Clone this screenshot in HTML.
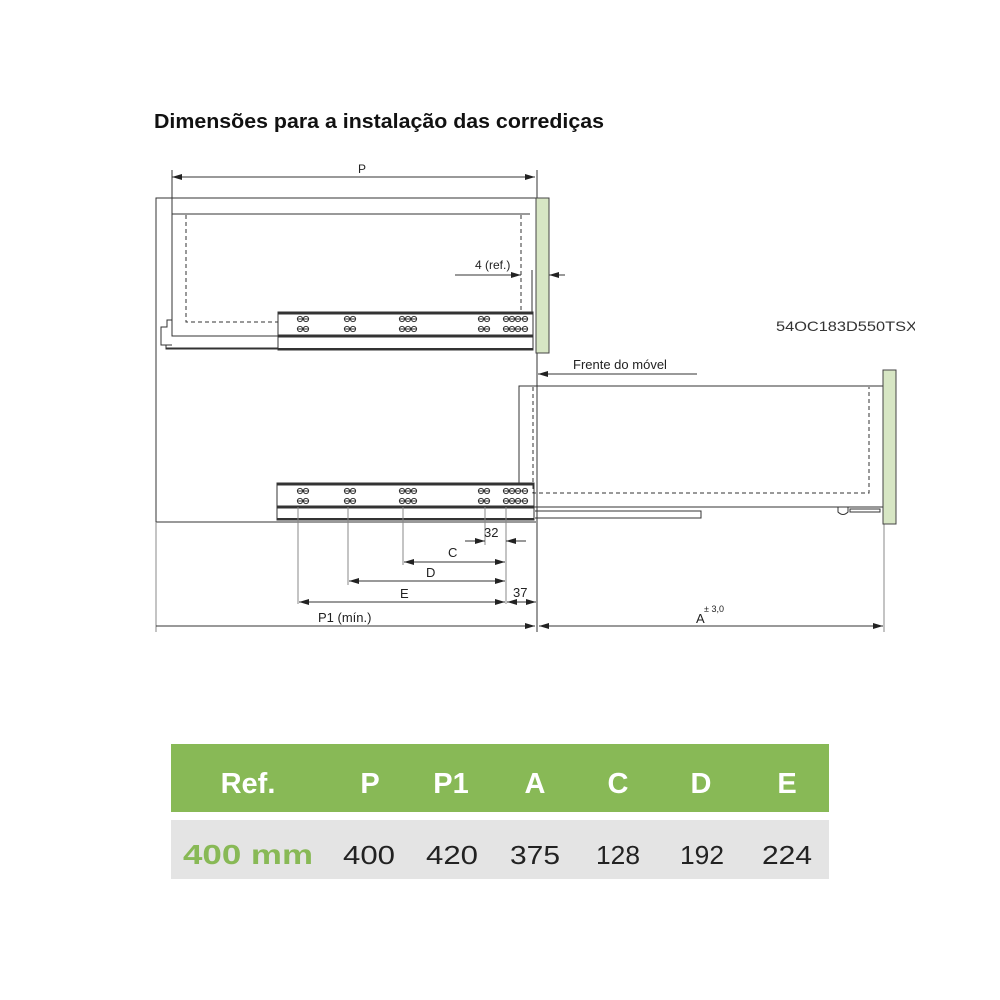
<!DOCTYPE html>
<html><head><meta charset="utf-8"><style>
html,body{margin:0;padding:0;background:#fff;}
svg{display:block}
text{font-family:"Liberation Sans",sans-serif;}
</style></head><body>
<svg width="1000" height="1000" viewBox="0 0 1000 1000" xmlns="http://www.w3.org/2000/svg">
<defs>
<marker id="a" viewBox="0 0 10 6" refX="10" refY="3" markerWidth="10" markerHeight="6" orient="auto-start-reverse" markerUnits="userSpaceOnUse"><path d="M0,0L10,3L0,6z" fill="#222"/></marker>
<clipPath id="cl"><rect x="700" y="300" width="215" height="40"/></clipPath>
<g id="holes" fill="none" stroke="#333" stroke-width="1">
<circle cx="300" cy="0" r="2.6"/><circle cx="306" cy="0" r="2.6"/>
<circle cx="347" cy="0" r="2.6"/><circle cx="353" cy="0" r="2.6"/>
<circle cx="402" cy="0" r="2.6"/><circle cx="408" cy="0" r="2.6"/><circle cx="414" cy="0" r="2.6"/>
<circle cx="481" cy="0" r="2.6"/><circle cx="487" cy="0" r="2.6"/>
<circle cx="506" cy="0" r="2.6"/><circle cx="512" cy="0" r="2.6"/><circle cx="518" cy="0" r="2.6"/><circle cx="525" cy="0" r="2.6"/>
<path d="M297,0h12M344,0h12M399,0h18M478,0h12M503,0h25" stroke="#333"/>
</g>
</defs>
<text x="154" y="128" font-size="20" font-weight="bold" fill="#111" textLength="450" lengthAdjust="spacingAndGlyphs">Dimensões para a instalação das corrediças</text>

<g stroke="#333" fill="none" stroke-width="1">
<line x1="172" y1="170" x2="172" y2="214"/>
<line x1="172" y1="177" x2="535" y2="177" marker-start="url(#a)" marker-end="url(#a)"/>
<path d="M537,198H156V522H536"/>
<line x1="537" y1="170" x2="537" y2="632"/>
<path d="M172,214H530M172,214V336H278"/>
<path d="M186,215V322H278M521,215V312" stroke-dasharray="4,3"/>
<path d="M172,320H167V327H161V345H172"/>
<path d="M166,345V349H278M166,348H278" />
<rect x="278" y="312" width="255" height="38"/>
<line x1="278" y1="313" x2="533" y2="313" stroke-width="3"/>
<line x1="278" y1="336" x2="533" y2="336" stroke-width="3"/>
<line x1="278" y1="349" x2="533" y2="349" stroke-width="2"/>
<line x1="455" y1="275" x2="521" y2="275" marker-end="url(#a)"/>
<line x1="565" y1="275" x2="549" y2="275" marker-end="url(#a)"/>
<line x1="532" y1="270" x2="532" y2="312"/>
<line x1="697" y1="374" x2="538" y2="374" marker-end="url(#a)"/>
<path d="M519,485V386H883"/>
<path d="M533,387V493H869V387" stroke-dasharray="4,3"/>
<line x1="533" y1="507" x2="883" y2="507"/>
<path d="M535,511H701V518H535"/>
<path d="M838,507v5q5,5 10,0v-5M850,509h30v3h-30z"/>
<rect x="277" y="483" width="257" height="37"/>
<line x1="277" y1="484" x2="534" y2="484" stroke-width="3"/>
<line x1="277" y1="507" x2="534" y2="507" stroke-width="3"/>
<line x1="277" y1="519" x2="534" y2="519" stroke-width="2"/>
<g stroke="#888">
<line x1="298" y1="507" x2="298" y2="604"/>
<line x1="348" y1="507" x2="348" y2="585"/>
<line x1="403" y1="507" x2="403" y2="565"/>
<line x1="485" y1="507" x2="485" y2="545"/>
<line x1="506" y1="507" x2="506" y2="604"/>
<line x1="884" y1="522" x2="884" y2="632"/>
<line x1="156" y1="522" x2="156" y2="632"/>
</g>
<line x1="465" y1="541" x2="485" y2="541" marker-end="url(#a)"/>
<line x1="526" y1="541" x2="506" y2="541" marker-end="url(#a)"/>
<line x1="404" y1="562" x2="505" y2="562" marker-start="url(#a)" marker-end="url(#a)"/>
<line x1="349" y1="581" x2="505" y2="581" marker-start="url(#a)" marker-end="url(#a)"/>
<line x1="299" y1="602" x2="505" y2="602" marker-start="url(#a)" marker-end="url(#a)"/>
<line x1="507" y1="602" x2="536" y2="602" marker-start="url(#a)" marker-end="url(#a)"/>
<line x1="156" y1="626" x2="535" y2="626" marker-end="url(#a)"/>
<line x1="539" y1="626" x2="883" y2="626" marker-start="url(#a)" marker-end="url(#a)"/>
</g>
<use href="#holes" transform="translate(0,319)"/>
<use href="#holes" transform="translate(0,329)"/>
<use href="#holes" transform="translate(0,491)"/>
<use href="#holes" transform="translate(0,501)"/>
<rect x="536" y="198" width="13" height="155" fill="#d7e6c4" stroke="#444"/>
<rect x="883" y="370" width="13" height="154" fill="#d7e6c4" stroke="#444"/>

<g font-size="12" fill="#222">
<text x="362" y="173" text-anchor="middle">P</text>
<text x="475" y="269">4 (ref.)</text>
<text x="573" y="369" font-size="13">Frente do móvel</text>
<text x="484" y="537" font-size="13">32</text>
<text x="448" y="557" font-size="13">C</text>
<text x="426" y="577" font-size="13">D</text>
<text x="400" y="598" font-size="13">E</text>
<text x="513" y="597" font-size="13">37</text>
<text x="318" y="622" font-size="13">P1 (mín.)</text>
<text x="696" y="623" font-size="13">A</text>
<text x="704" y="612" font-size="9">± 3,0</text>
<text x="776" y="331" font-size="14" fill="#333" clip-path="url(#cl)" textLength="150" lengthAdjust="spacingAndGlyphs">54OC183D550TSX0</text>
</g>

<rect x="171" y="744" width="658" height="68" fill="#88b956"/>
<rect x="171" y="820" width="658" height="59" fill="#e4e4e4"/>
<g font-size="29" font-weight="bold" fill="#fff" text-anchor="middle">
<text x="248" y="793">Ref.</text>
<text x="370" y="793">P</text>
<text x="451" y="793">P1</text>
<text x="535" y="793">A</text>
<text x="618" y="793">C</text>
<text x="701" y="793">D</text>
<text x="787" y="793">E</text>
</g>
<text x="183" y="864" font-size="28" font-weight="bold" fill="#88b956" textLength="130" lengthAdjust="spacingAndGlyphs">400 mm</text>
<g font-size="26" fill="#222">
<text x="343" y="864" textLength="52" lengthAdjust="spacingAndGlyphs">400</text>
<text x="426" y="864" textLength="52" lengthAdjust="spacingAndGlyphs">420</text>
<text x="510" y="864" textLength="50" lengthAdjust="spacingAndGlyphs">375</text>
<text x="596" y="864" textLength="44" lengthAdjust="spacingAndGlyphs">128</text>
<text x="680" y="864" textLength="44" lengthAdjust="spacingAndGlyphs">192</text>
<text x="762" y="864" textLength="50" lengthAdjust="spacingAndGlyphs">224</text>
</g>
</svg>
</body></html>
